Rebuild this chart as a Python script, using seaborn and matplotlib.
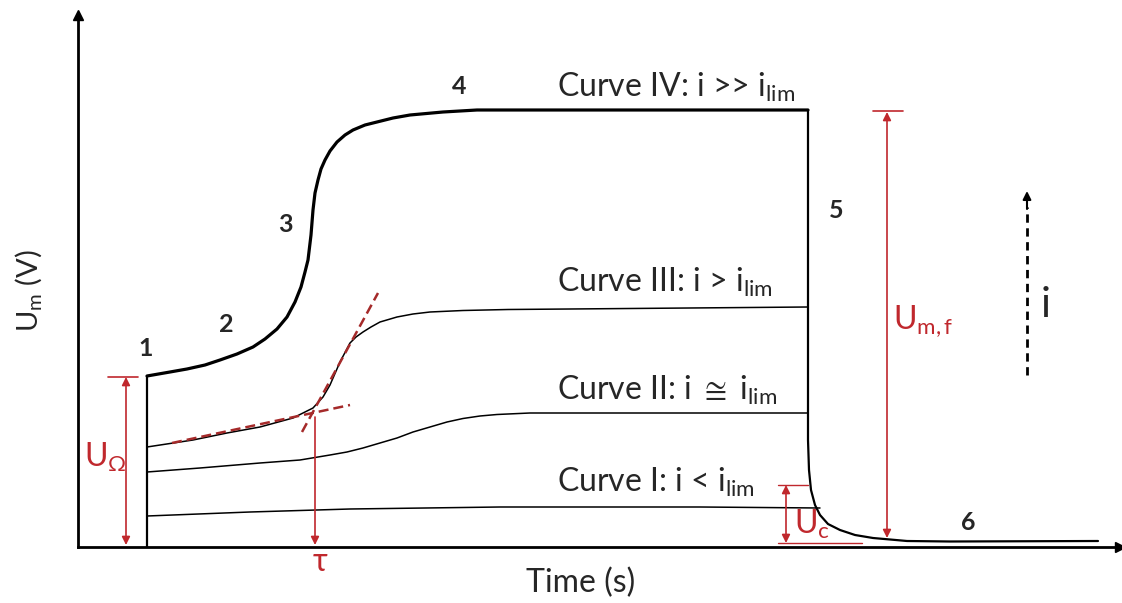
import numpy as np
import pandas as pd
import seaborn as sns
import matplotlib.pyplot as plt

# ---- data (time in arbitrary units, voltage in arbitrary units) ----
t_start = [6.9, 6.9]
u_start = [0.0, 17.1]
t_iv = [6.9, 9.2, 10.9, 12.7, 14.2, 15.9, 17.5, 18.7, 19.9, 20.9, 21.7, 22.3, 22.7, 23.0, 23.3,
        23.5, 23.7, 24.0, 24.3, 24.7, 25.2, 25.9, 26.7, 27.5, 28.7, 29.9, 31.5, 33.2, 36.5,
        39.9, 42.2, 73.0]
u_iv = [17.1, 17.5, 17.8, 18.2, 18.7, 19.3, 20.0, 20.8, 21.8, 23.0, 24.5, 26.0, 27.5, 28.7, 31.2,
        33.7, 35.4, 36.7, 37.8, 38.7, 39.6, 40.5, 41.2, 41.7, 42.2, 42.5, 42.9, 43.2, 43.5,
        43.7, 43.7, 43.7]
t_drop = [73.0, 73.0, 73.1, 73.3, 73.7, 74.2, 75.0, 76.2, 77.7, 79.5, 82.9, 87.2, 102.0]
u_drop = [43.7, 10.7, 7.7, 5.7, 4.2, 3.2, 2.3, 1.7, 1.2, 0.9, 0.6, 0.55, 0.6]
t_iii = [6.9, 11.5, 14.9, 18.2, 21.5, 23.5, 24.5, 25.2, 26.2, 27.2, 27.8, 28.5, 29.3, 30.2,
         31.9, 33.5, 35.2, 38.5, 43.0, 49.2, 73.0]
u_iii = [10.0, 10.7, 11.4, 12.0, 12.9, 13.9, 15.0, 16.2, 18.5, 20.4, 21.0, 21.5, 22.0, 22.5,
         23.0, 23.3, 23.5, 23.65, 23.75, 23.8, 24.0]
t_ii = [6.9, 12.2, 18.2, 22.2, 25.2, 26.9, 28.5, 30.2, 31.9, 33.5, 35.2, 36.9, 38.5, 40.2,
        41.9, 45.2, 49.2, 73.0]
u_ii = [7.5, 7.9, 8.4, 8.7, 9.2, 9.5, 9.9, 10.4, 10.9, 11.5, 12.0, 12.5, 12.85, 13.1,
        13.25, 13.4, 13.4, 13.4]
t_i = [6.9, 17.2, 27.2, 42.2, 62.2, 74.2]
u_i = [3.1, 3.5, 3.8, 4.0, 4.0, 3.9]
tan1_t = [9.4, 27.2]
tan1_u = [10.4, 14.2]
tan2_t = [22.4, 30.0]
tan2_u = [11.5, 25.4]

curve_labels = ["Curve IV: i >> i$_{\\mathrm{lim}}$", "Curve III: i > i$_{\\mathrm{lim}}$",
                "Curve II: i $\\cong$ i$_{\\mathrm{lim}}$", "Curve I: i < i$_{\\mathrm{lim}}$"]
label_u = [45.0, 25.5, 14.7, 5.5]
label_t = 47.9
stage_labels = ["1", "2", "3", "4", "5", "6"]
stage_t = [6.8, 14.8, 20.7, 38.1, 75.8, 89.0]
stage_u = [19.8, 22.2, 32.2, 46.0, 33.7, 2.5]

# ---- style ----
sns.set_theme(style='white')
plt.rcParams['font.family'] = ['Lato', 'DejaVu Sans']
plt.rcParams['mathtext.fontset'] = 'custom'
plt.rcParams['mathtext.rm'] = 'Lato'
plt.rcParams['mathtext.it'] = 'Lato:italic'
plt.rcParams['mathtext.bf'] = 'Lato:bold'

RED = '#C0282D'
DRED = '#A52A2A'
FS = 23

fig = plt.figure(figsize=(11.22, 6.03), dpi=100)
ax = fig.add_axes([78 / 1122, 56 / 603, 1042 / 1122, 532 / 603])
ax.set_xlim(0, 104.2)
ax.set_ylim(0, 53.2)


def draw(t, u, lw, color='black', ls='-'):
    df = pd.DataFrame({'t': t, 'u': u})
    sns.lineplot(data=df, x='t', y='u', sort=False, estimator=None, ax=ax,
                 color=color, lw=lw, linestyle=ls)


draw(t_start, u_start, 1.6)
draw(t_iv, u_iv, 2.3)
draw(t_drop, u_drop, 1.6)
draw(t_iii, u_iii, 1.1)
draw(t_ii, u_ii, 1.1)
draw(t_i, u_i, 1.1)
draw(tan1_t, tan1_u, 1.8, DRED, (0, (4, 2)))
draw(tan2_t, tan2_u, 1.8, DRED, (0, (4, 2)))

# axes styling
for s in ['top', 'right']:
    ax.spines[s].set_visible(False)
for s in ['left', 'bottom']:
    ax.spines[s].set_color('black')
    ax.spines[s].set_linewidth(2)
ax.set_xticks([])
ax.set_yticks([])
ax.set_xlabel('')
ax.set_ylabel('')
ax.plot(0, 1, marker='^', color='black', ms=7, transform=ax.transAxes, clip_on=False)
ax.plot(1, 0, marker='>', color='black', ms=7, transform=ax.transAxes, clip_on=False)

ax.text(50.3, -3.6, 'Time (s)', fontsize=FS, ha='center', va='center', clip_on=False)
ax.text(-5.0, 25.6, 'U$_{\\mathrm{m}}$ (V)', fontsize=21, ha='center', va='center',
        rotation=90, clip_on=False)

# curve labels
for lab, u in zip(curve_labels, label_u):
    ax.text(label_t, u, lab, fontsize=FS, ha='left', va='baseline')

for lab, t, u in zip(stage_labels, stage_t, stage_u):
    ax.text(t, u, lab, fontsize=18, fontweight='bold', ha='center', va='center')


def dbl(x, y0, y1):
    ax.annotate('', xy=(x, y0), xytext=(x, y1),
                arrowprops=dict(arrowstyle='<|-|>', color=RED, lw=1.2,
                                mutation_scale=12, shrinkA=0, shrinkB=0))


# U_Omega
dbl(4.8, 0.2, 17.0)
ax.plot([3.0, 6.0], [17.0, 17.0], color=RED, lw=1.2)
ax.text(0.6, 9.0, 'U$_{\\Omega}$', color=RED, fontsize=FS, ha='left', va='center')

# tau
ax.annotate('', xy=(23.7, 0.2), xytext=(23.7, 13.0),
            arrowprops=dict(arrowstyle='-|>', color=RED, lw=1.2,
                            mutation_scale=12, shrinkA=0, shrinkB=0))
ax.text(24.2, -1.5, '\u03c4', color=RED, fontsize=FS, ha='center', va='center', clip_on=False)

# U_c
dbl(70.8, 0.4, 6.2)
ax.plot([70.0, 73.0], [6.2, 6.2], color=RED, lw=1.0)
ax.plot([70.0, 78.4], [0.4, 0.4], color=RED, lw=1.0)
ax.text(71.6, 2.3, 'U$_{\\mathrm{c}}$', color=RED, fontsize=FS, ha='left', va='center')

# U_m,f
dbl(80.9, 0.9, 43.5)
ax.plot([79.5, 82.5], [43.6, 43.6], color=RED, lw=1.2)
ax.text(81.5, 22.6, 'U$_{\\mathrm{m,f}}$', color=RED, fontsize=FS, ha='left', va='center')

# current direction arrow
ax.plot([94.9, 94.9], [17.2, 34.0], color='black', lw=2, linestyle=(0, (3, 2)))
ax.annotate('', xy=(94.9, 35.6), xytext=(94.9, 33.8),
            arrowprops=dict(arrowstyle='-|>', color='black', lw=1.5,
                            mutation_scale=12, shrinkA=0, shrinkB=0))
ax.text(96.8, 24.2, 'i', fontsize=30, ha='center', va='center')

fig.savefig('out.png', dpi=100)
